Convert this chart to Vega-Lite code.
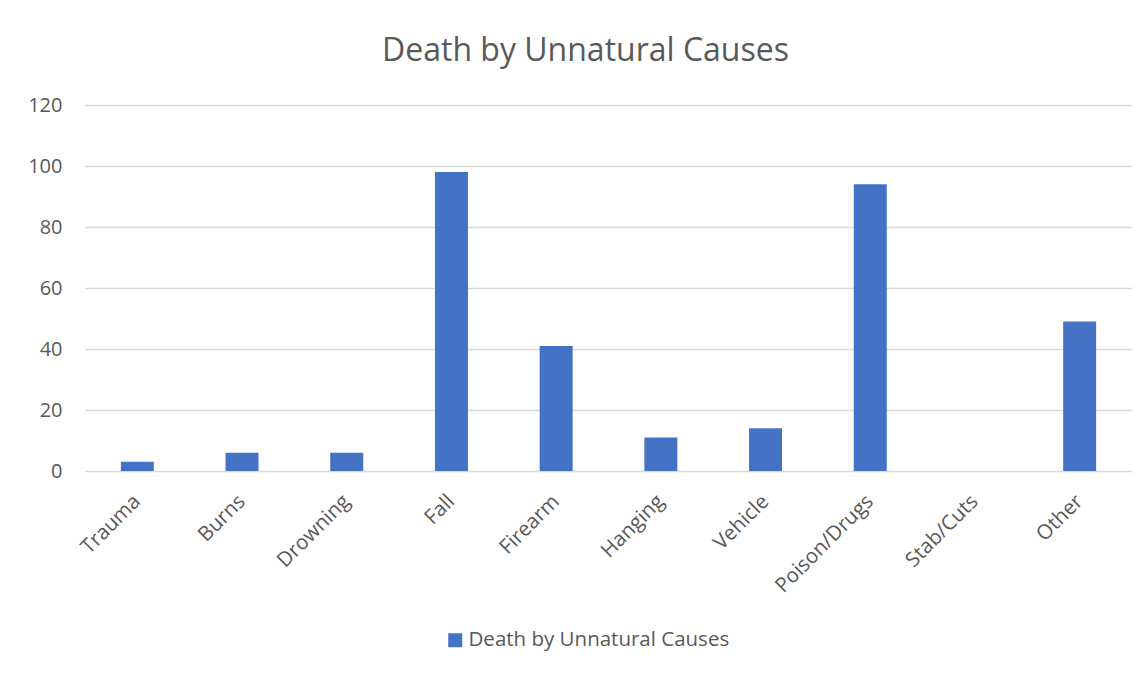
{
  "$schema": "https://vega.github.io/schema/vega-lite/v6.json",
  "width": 1047,
  "height": 366,
  "autosize": {"type": "none"},
  "padding": {"left": 85, "top": 105, "right": 15, "bottom": 204},
  "background": "white",
  "title": {
    "text": "Death by Unnatural Causes",
    "fontSize": 32,
    "font": "Open Sans",
    "fontWeight": "normal",
    "color": "#595959",
    "anchor": "middle",
    "dx": -23,
    "offset": 27
  },
  "data": {
    "values": [
      {"cause": "Trauma", "count": 3},
      {"cause": "Burns", "count": 6},
      {"cause": "Drowning", "count": 6},
      {"cause": "Fall", "count": 98},
      {"cause": "Firearm", "count": 41},
      {"cause": "Hanging", "count": 11},
      {"cause": "Vehicle", "count": 14},
      {"cause": "Poison/Drugs", "count": 94},
      {"cause": "Stab/Cuts", "count": 0},
      {"cause": "Other", "count": 49}
    ]
  },
  "mark": {"type": "bar", "color": "#4472C4"},
  "encoding": {
    "x": {
      "field": "cause",
      "type": "nominal",
      "sort": null,
      "scale": {"paddingInner": 0.685, "paddingOuter": 0.3425},
      "axis": {
        "title": null,
        "labelAngle": -45,
        "labelAlign": "right",
        "labelBaseline": "middle",
        "labelFontSize": 20.5,
        "labelFont": "Open Sans",
        "labelColor": "#595959",
        "labelLimit": 0,
        "ticks": false,
        "domain": false,
        "labelPadding": 27
      }
    },
    "y": {
      "field": "count",
      "type": "quantitative",
      "scale": {"domain": [0, 120]},
      "axis": {
        "title": null,
        "values": [0, 20, 40, 60, 80, 100, 120],
        "grid": true,
        "gridColor": "#D9D9D9",
        "gridWidth": 1.3,
        "ticks": false,
        "domain": false,
        "labelFontSize": 20,
        "labelFont": "Open Sans",
        "labelColor": "#595959",
        "labelPadding": 23
      }
    },
    "color": {
      "datum": "Death by Unnatural Causes",
      "type": "nominal",
      "scale": {"range": ["#4472C4"]},
      "legend": {
        "title": null,
        "orient": "none",
        "legendX": 360,
        "legendY": 525,
        "symbolType": "square",
        "symbolSize": 196,
        "symbolStrokeWidth": 0,
        "labelFontSize": 20.5,
        "labelFont": "Open Sans",
        "labelColor": "#595959",
        "labelOffset": 3,
        "labelLimit": 0
      }
    }
  },
  "config": {"view": {"stroke": null}}
}
